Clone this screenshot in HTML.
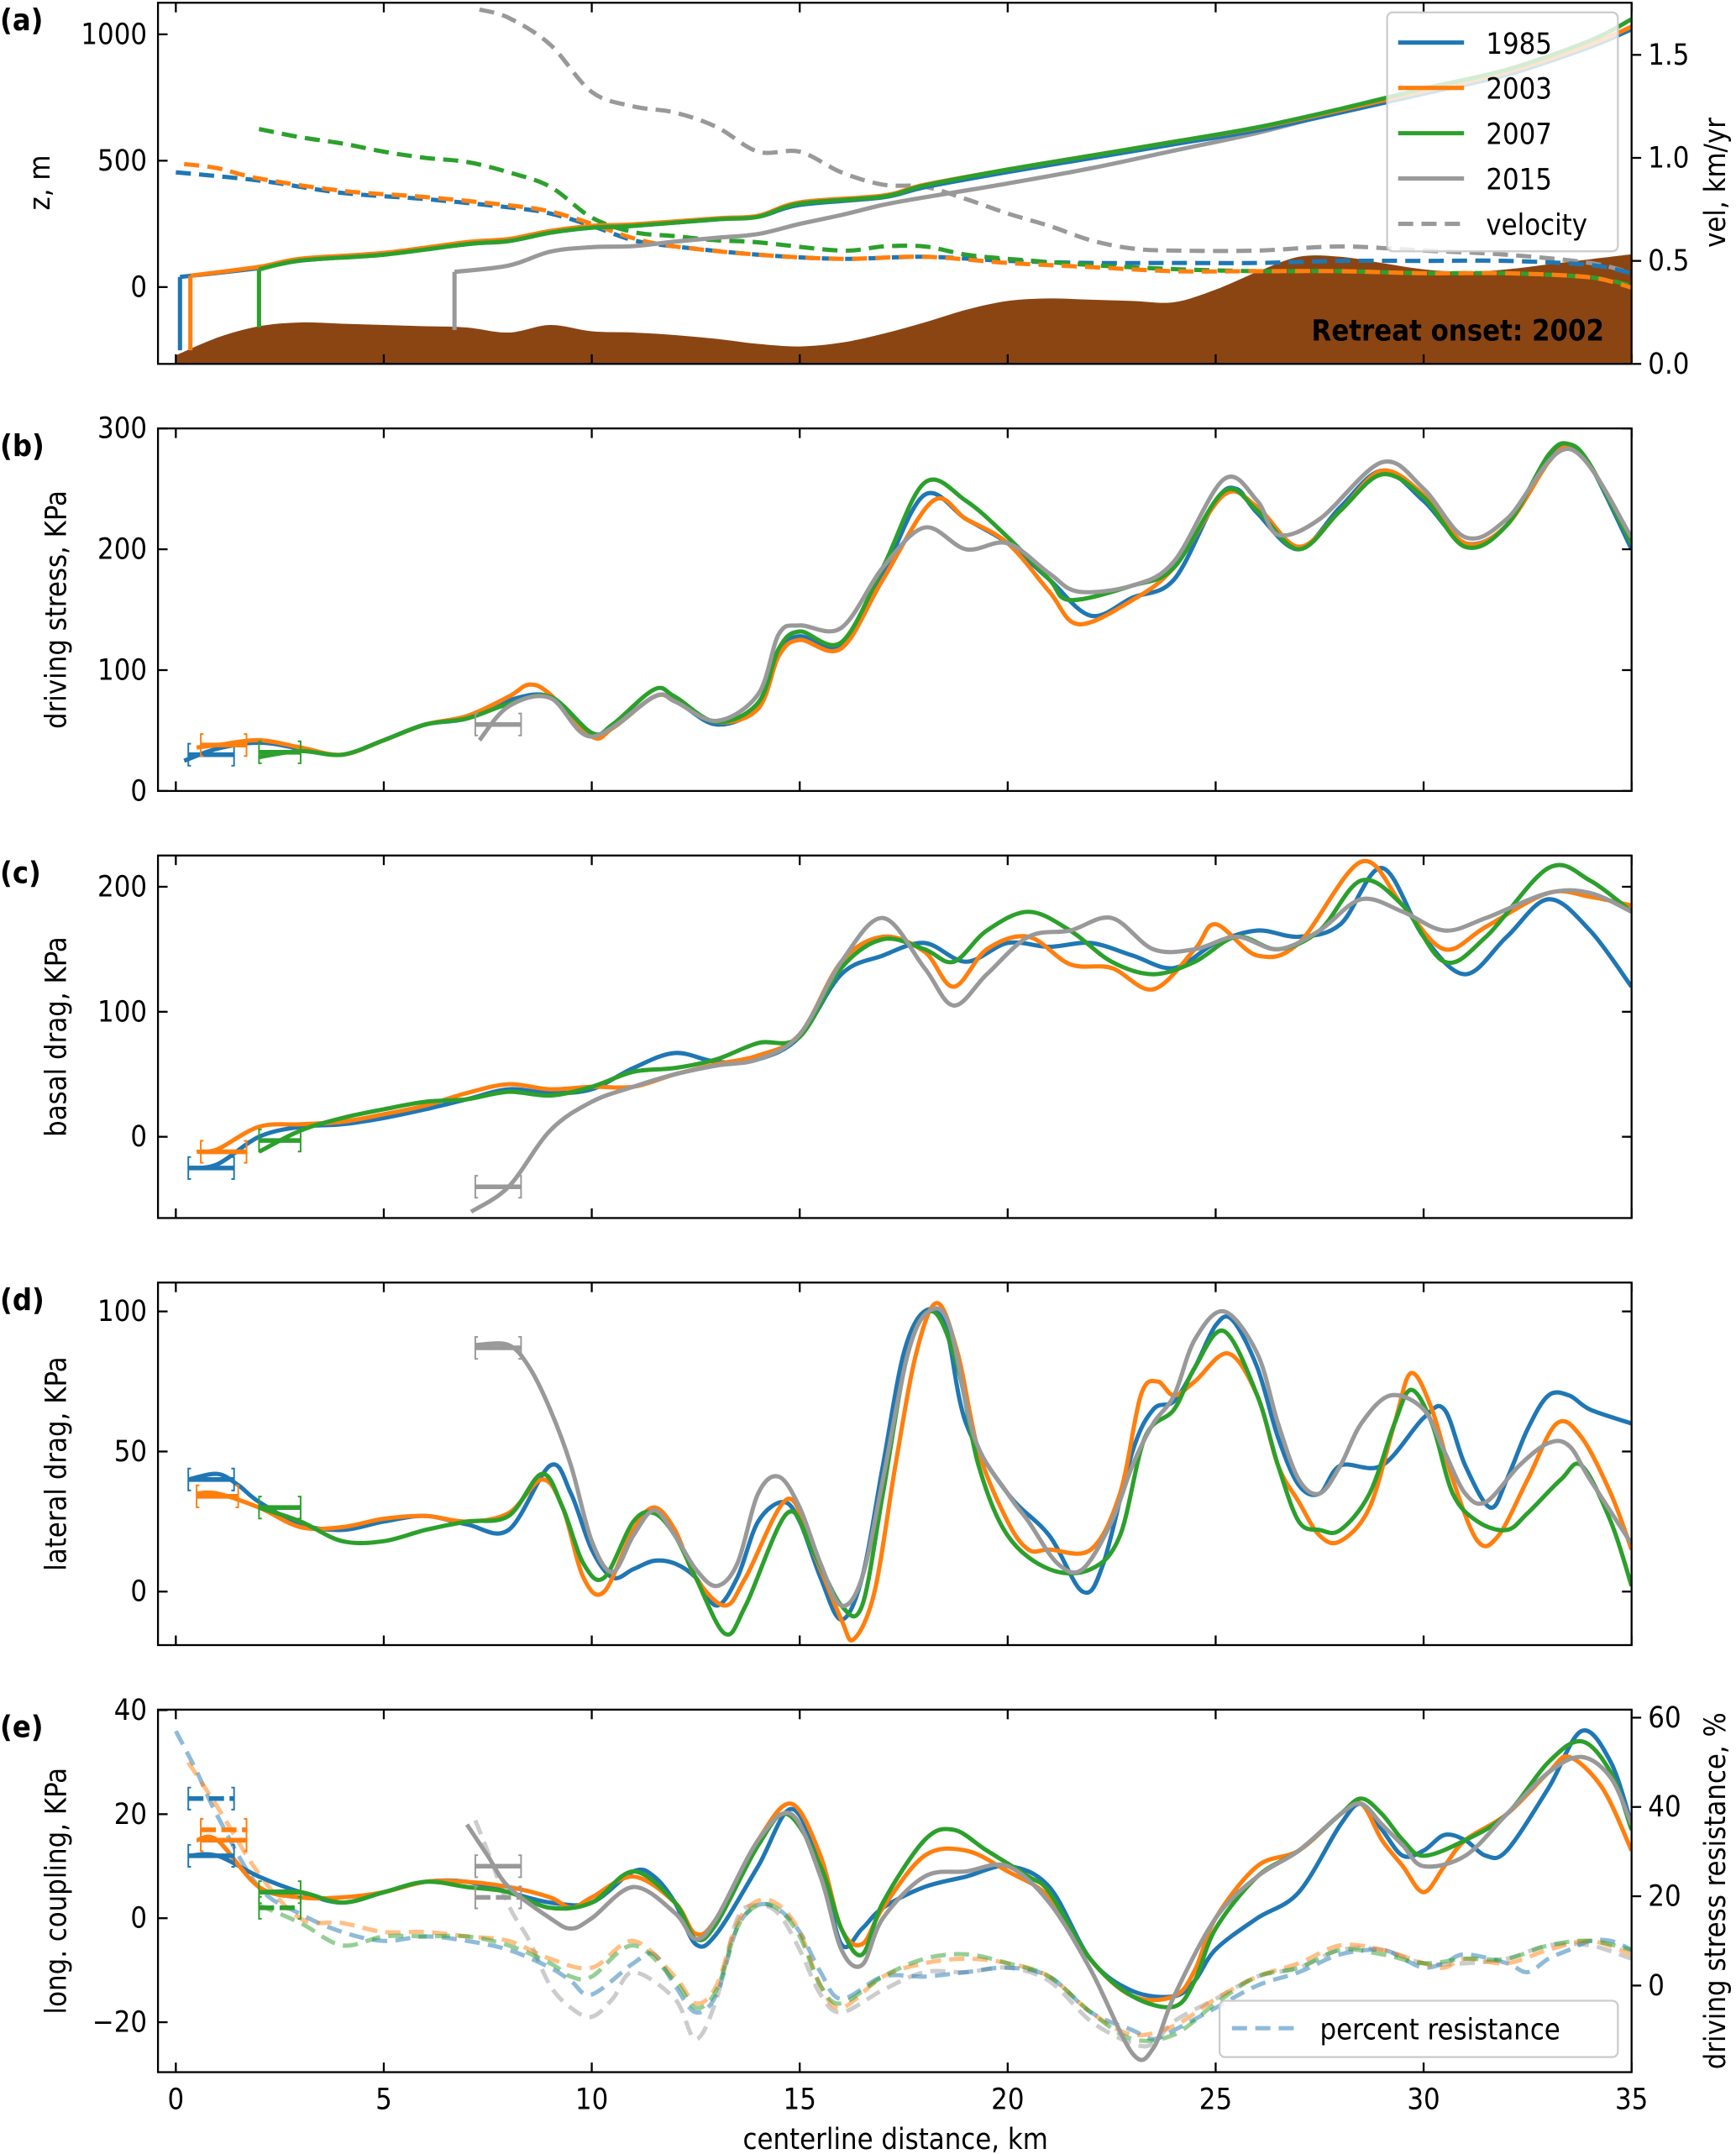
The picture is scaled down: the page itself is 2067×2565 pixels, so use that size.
<!DOCTYPE html>
<html><head><meta charset="utf-8"><title>Glacier centerline profiles</title>
<style>
html,body{margin:0;padding:0;background:#fff;}
svg{display:block;}
text{font-family:"DejaVu Sans Condensed","DejaVu Sans","Liberation Sans",sans-serif;fill:#000;}
</style></head>
<body>
<svg id="fig" xmlns="http://www.w3.org/2000/svg" width="2067" height="2565" viewBox="0 0 1264 1568.6"></svg>
<script>
// ---------- DATA ----------
const xTicks=[0,5,10,15,20,25,30,35];
const years=['1985','2003','2007','2015'];
// (a) surface elevation, m
const sX85=[0.1,2,3,5,7,8,9,10,11,13,14,15,17,18,20,22,24,26,28,30,32,34,35];
const sY85=[40,75,105,130,170,182,215,235,242,268,278,325,355,395,455,510,565,620,690,765,840,950,1020];
const sX03=[0.35,2,3,5,7,8,9,10,11,13,14,15,17,18,20,22,24,26,28,30,32,34,35];
const sY03=[45,80,112,135,178,190,222,242,248,272,282,335,362,405,465,520,575,630,700,775,850,960,1030];
const sX07=[2,3,5,7,8,9,10,11,13,14,15,17,18,20,22,24,26,28,30,32,34,35];
const sY07=[70,105,128,170,182,215,235,242,268,278,330,358,402,465,520,575,632,705,785,860,975,1060];
const sX15=[6.7,8,9,10,11,12,13,14,15,16,17,18,20,22,24,26,28,30,32,34,35];
const sY15=[60,85,140,158,162,180,195,210,250,285,325,355,410,470,540,610,695,775,860,960,1030];
const termBed=[-250,-250,-160,-170];
// bed
const bedX=[0,1,2,3,4,5,6,7,8,9,10,11,12,13,14,15,16,17,18,19,20,21,22,23,24,25,26,27,28,29,30,31,32,33,34,35];
const bedY=[-270,-200,-155,-140,-145,-150,-155,-160,-180,-150,-175,-180,-190,-205,-225,-235,-220,-185,-140,-90,-55,-45,-50,-55,-60,-10,60,120,120,95,70,60,70,90,110,130];
// (a) velocity, km/yr
const vX85=[0,2,4,6,8,9,10,11,12,14,16,18,20,22,24,26,28,30,32,34,35];
const vY85=[0.93,0.89,0.83,0.8,0.76,0.73,0.67,0.6,0.57,0.53,0.51,0.52,0.5,0.49,0.49,0.49,0.5,0.5,0.5,0.48,0.44];
const vX03=[0.2,1,2,4,6,8,9,10,11,12,14,16,18,20,22,24,26,28,30,32,34,35];
const vY03=[0.97,0.95,0.9,0.84,0.81,0.77,0.74,0.68,0.61,0.57,0.53,0.51,0.52,0.49,0.47,0.45,0.45,0.45,0.44,0.44,0.42,0.37];
const vX07=[2,3,4,5,6,7,8,9,10,11,12,13,14,16,17,18,19,20,22,24,26,28,30,32,34,35];
const vY07=[1.14,1.1,1.07,1.03,1.0,0.98,0.93,0.86,0.71,0.64,0.62,0.6,0.59,0.55,0.57,0.57,0.53,0.51,0.48,0.46,0.45,0.45,0.44,0.44,0.42,0.38];
const vX15=[7.3,8,9,10,11,12,13,14,15,16,17,18,19,20,21,22,23,24,26,28,30,32,34,35];
const vY15=[1.72,1.68,1.55,1.32,1.25,1.22,1.15,1.03,1.03,0.93,0.87,0.86,0.8,0.73,0.67,0.6,0.56,0.55,0.55,0.57,0.55,0.53,0.49,0.44];
// (b) driving stress
const dX85=[0.2,1,2,3,4,5,6,7,8,9,10,10.5,11.5,12,13,14,14.5,15,16,17,18,19,20,21,22,23,24,25,25.5,26,27,28,29,30,31,32,33,33.5,34,35];
const dY85=[25,35,40,35,30,42,55,60,75,78,48,52,78,75,55,70,115,128,120,180,245,225,205,175,145,160,175,240,250,230,200,235,265,240,205,220,275,285,270,200];
const dX03=[0.5,1,2,3,4,5,6,7,8,8.5,9,10,10.5,11.5,12,13,14,14.5,15,16,17,18.2,19,20,21,21.7,23,24,25.2,26,27,28,29,30,31,32,33,33.5,34,35];
const dY03=[36,38,42,36,30,42,55,62,78,88,80,45,52,78,75,57,68,112,125,118,175,240,225,205,165,138,158,185,245,235,202,232,265,245,205,220,272,285,270,205];
const dX07=[2,3,4,5,6,7,8,9,10,10.5,11.5,12,13,14,14.5,15,16,17,18,19,20,21,21.5,23,24,25.2,26,27,28,29,30,31,32,33,33.5,34,35];
const dY07=[28,33,30,42,55,60,72,78,48,55,84,78,57,73,118,132,123,185,255,240,210,175,158,170,185,248,232,200,232,262,243,202,220,278,287,270,205];
const dX15=[7.3,8,9,10,11.5,12,13,14,14.5,15,16,17,18,19,20,21,21.7,23,24,25.2,26,26.5,27.5,29,30,31,32,33.5,35];
const dY15=[42,70,77,45,78,74,58,80,130,137,135,185,218,200,205,180,165,170,190,258,240,212,225,272,250,210,225,283,210];
// (c) basal drag
const cX85=[0.3,1,2,3,4,5,6,7,8,9,10,11,12,13,14,15,16,17,18,19,20,21,22,23,24,25,26,27,28,29,30,31,32,33,34,35];
const cY85=[-25,-22,0,8,10,15,22,30,38,35,38,55,67,60,62,80,130,145,155,140,155,152,155,145,135,155,165,160,170,215,160,130,160,190,165,120];
const cX03=[0.5,1,2,3,4,5,6,7,8,9,10,11,12,13,14,15,16,17,18,18.7,19.5,20.5,21.5,22.5,23.5,24.5,25,26,27,28.5,29.5,30.5,31.5,33,34,35];
const cY03=[-12,-10,8,10,12,18,25,35,42,38,40,40,50,58,65,82,140,160,148,120,150,160,138,135,118,150,170,145,155,220,185,150,168,195,192,185];
const cX07=[2,3,4,5,6,7,8,9,10,11,12,13,14,15,16,17,18,18.7,19.5,20.5,21.5,22.5,23.5,24.5,25.5,26.5,27.5,28.5,29.5,30.5,31.5,33,34,35];
const cY07=[-12,5,15,22,28,30,36,33,40,52,55,62,75,80,135,158,150,140,165,180,165,140,130,140,160,150,165,205,185,140,160,215,205,180];
const cX15=[7.1,8,9,10,11,12,13,14,15,16,17,18,18.7,19.5,20.5,21.5,22.5,23.5,24.5,25.5,26.5,27.5,28.5,29.5,30.5,31.5,33,34,35];
const cY15=[-60,-40,5,28,40,50,57,62,82,140,175,135,105,130,160,165,175,150,150,160,150,165,190,180,165,175,195,195,180];
// (d) lateral drag
const lX85=[0.3,1,1.5,2,3,4,5,6,7,8,9,9.5,10,10.5,11,11.5,12,12.5,13,13.5,14,14.6,15,15.5,16,16.5,17,17.5,18,18.5,19,20,21,21.8,22.3,23,23.5,24,24.5,25,25.4,26,26.5,27,27.5,28,29,30,30.5,31,31.6,32,32.5,33,33.5,34,35];
const lY85=[40,42,38,32,24,22,25,27,24,22,45,35,15,5,8,11,10,5,-5,5,25,32,25,5,-10,5,45,85,100,95,60,35,20,0,10,50,65,68,80,95,97,80,55,38,35,45,45,62,65,45,30,40,58,70,70,65,60];
const lX03=[0.5,1,2,3,4,5,6,7,8,8.8,9.3,9.8,10.3,11,11.5,12,12.5,13.2,13.7,14.7,15.3,16,16.3,16.8,17.3,17.8,18.3,18.8,19.3,20,20.5,21,22,22.7,23.2,23.6,24,24.5,25.3,26,26.5,27,27.5,28,28.7,29.3,29.7,30.2,30.7,31.3,31.8,32.5,33.2,33.8,34.5,35];
const lY03=[35,35,30,23,23,26,27,25,28,40,30,5,0,22,30,22,5,-5,5,33,15,-10,-17,0,45,85,103,85,50,25,15,15,15,35,70,75,70,75,85,70,45,32,20,18,30,60,78,65,40,18,20,40,60,55,35,15];
const lX07=[2,3,4,5,6,7,8,8.8,9.3,9.8,10.3,11,11.5,12,12.5,13.2,13.7,14.7,15.3,16,16.5,17,17.6,18.2,18.8,19.3,20,21,22,22.7,23.3,24,24.5,25.2,26,26.5,27,27.5,28,28.7,29.3,29.7,30.2,30.7,31.3,32,32.5,33.3,33.8,34.5,35];
const lY07=[30,25,18,18,22,25,27,42,30,10,5,25,28,20,5,-15,-5,28,15,-5,-5,35,85,100,80,45,20,8,8,20,55,65,80,93,70,45,25,22,22,35,60,72,60,35,25,22,28,40,45,25,2];
const lX15=[7.2,8,8.5,9,9.5,10,10.5,11,11.5,12,12.5,13,13.5,14,14.5,15,15.5,16,16.5,17,17.6,18.1,18.6,19.2,20,20.5,21.2,21.8,22.5,23,23.5,24,24.5,25.2,26,26.5,27,27.5,28,28.5,29.2,30,30.5,31,31.5,32.3,33,33.5,34,35];
const lY15=[88,88,80,65,45,18,7,20,29,20,8,2,10,35,41,30,10,-5,5,40,85,100,95,55,35,25,10,8,25,45,60,70,90,100,85,60,40,35,45,60,70,65,50,35,32,45,53,52,40,17];
// (e) longitudinal coupling
const eX85=[0.3,1,2,3,4,5,6,7,8,9,10,11,11.5,12,12.5,13,14,14.8,15.5,16,16.5,17,18,19,20,21,22,23,24,24.5,25,26,27,28,28.5,29,29.5,30,30.5,31,31.5,32,33,33.8,34.5,35];
const eY85=[12,12,8,5,3,5,7,7,5,3,3,9,8,3,-5,-3,10,21,10,-5,-2,2,6,8,10,6,-8,-14,-15,-12,-6,0,5,18,22,17,12,13,16,15,12,13,25,36,30,18];
const eX03=[0.5,1,2,3,4,5,6,7,8,9,9.5,10,11,12,12.5,13,14,14.8,15.5,16,16.5,17,18,19,20,21,22,23,24,24.5,25,26,27,28,28.5,29,29.5,30,30.5,31,32,33,33.5,34.3,35];
const eY03=[15,15,6,4,4,5,7,7,6,4,2,4,8,3,-3,0,15,22,12,-2,-5,2,12,13,9,4,-8,-15,-15,-10,0,10,13,20,22,15,10,5,10,15,20,28,31,25,13];
const eX07=[2,3,4,5,6,7,8,9,10,11,12,12.5,13,14,14.7,15.5,16,16.5,17,18,18.7,19.5,20.5,21,22,23,24,24.5,25,26,27,28,28.5,29,29.5,30,31,32,33,33.8,34.5,35];
const eY07=[5,5,3,5,7,6,5,2,3,9,3,-4,-1,14,20,10,-2,-7,3,15,17,13,8,5,-8,-15,-17,-12,-2,8,13,20,23,20,15,12,15,20,30,34,28,17];
const eX15=[7,7.5,8,9,9.5,10,11,12,12.5,13,14,14.8,15.5,16,16.5,17,18,19,20,21,22,23,23.5,24,25,26,27,28,28.5,29,29.5,30,31,32,33,33.8,34.5,35];
const eY15=[18,12,6,0,-2,0,6,1,-4,0,15,20,8,-6,-9,0,8,9,10,3,-10,-26,-25,-15,0,8,13,20,22,18,14,10,12,20,28,31,27,18];
// (e) percent resistance, %
const pX85=[0,0.5,1,2,3,4,5,6,7,8,9,9.5,10,11,11.5,12,12.5,13,13.5,14,14.5,15,15.5,16,17,18,19,20,21,22,23,23.5,24,25,26,27,28,29,29.5,30,30.5,31,32,32.5,33,33.5,34,34.5,35];
const pY85=[57,48,38,22,16,12,10,11,10,8,4,1,-2,5,7,0,-6,-2,13,18,17,12,3,-3,2,2,3,4,2,-6,-10,-12,-10,-5,0,3,7,8,6,4,5,7,5,3,6,8,10,10,8];
const pX03=[0.3,1,2,3,4,5,6,7,8,9,10,11,12,12.5,13,13.5,14,14.5,15,15.5,16,17,18,19,20,21,22,23,24,25,26,27,28,29,30,30.5,31,32,33,34,35];
const pY03=[50,40,25,15,14,12,12,11,10,6,4,10,2,-4,0,14,19,18,12,0,-5,2,5,6,5,2,-6,-11,-9,-3,2,5,9,8,5,4,6,5,8,10,7];
const pX07=[2,3,4,5,6,7,8,9,9.5,10,11,12,12.5,13,13.5,14,14.5,15,15.5,16,17,18,19,20,21,22,23,24,25,26,27,28,29,30,31,32,33,34,35];
const pY07=[18,14,9,11,11,11,9,5,2,2,9,1,-5,-1,13,18,17,11,0,-4,2,6,7,5,2,-6,-12,-11,-4,2,4,8,7,5,6,6,9,10,8];
const pX15=[7.2,7.5,8,8.5,9,9.5,10,10.5,11,12,12.5,13,13.5,14,14.5,15,15.5,16,17,18,19,20,21,22,23,23.5,24,25,26,27,28,29,30,31,32,33,34,35];
const pY15=[37,30,18,10,0,-5,-7,-3,3,-3,-12,-3,15,18,16,8,-2,-6,-1,3,3,4,1,-8,-13,-13,-8,-3,2,4,8,8,5,5,6,9,9,6];
// error bars: [x0, x1, value]
const errB=[[0.3,1.4,30],[0.6,1.7,38],[2,3,32],[7.2,8.3,55]];
const errC=[[0.3,1.4,-25],[0.6,1.7,-12],[2,3,-3],[7.2,8.3,-40]];
const errD=[[0.3,1.4,40],[0.5,1.5,34],[2,3,30],[7.2,8.3,87]];
const errE=[[0.3,1.4,12],[0.6,1.7,15],[2,3,5],[7.2,8.3,10]];
const errEp=[[0.3,1.4,23],[0.6,1.7,17],[2,3,2],[7.2,8.3,4]];

// ---------- RENDER ----------
const NS='http://www.w3.org/2000/svg';
const svg=document.getElementById('fig');
const COL=['#1f77b4','#ff7f0e','#2ca02c','#999999'];
const L=115,R=1188,X0=128,X35=1188;
const LW=3.1, DASH='11,6';
function sx(v){return X0+(v-0)*(X35-X0)/35;}
function mk(tag,attrs,parent){const e=document.createElementNS(NS,tag);for(const k in attrs)e.setAttribute(k,attrs[k]);(parent||svg).appendChild(e);return e;}
function smooth(pts){
  if(pts.length<2)return '';
  let d='M'+pts[0][0].toFixed(2)+','+pts[0][1].toFixed(2);
  for(let i=0;i<pts.length-1;i++){
    const p0=pts[Math.max(i-1,0)],p1=pts[i],p2=pts[i+1],p3=pts[Math.min(i+2,pts.length-1)];
    const c1x=p1[0]+(p2[0]-p0[0])/6,c1y=p1[1]+(p2[1]-p0[1])/6;
    const c2x=p2[0]-(p3[0]-p1[0])/6,c2y=p2[1]-(p3[1]-p1[1])/6;
    d+=' C'+c1x.toFixed(2)+','+c1y.toFixed(2)+' '+c2x.toFixed(2)+','+c2y.toFixed(2)+' '+p2[0].toFixed(2)+','+p2[1].toFixed(2);
  }
  return d;
}
function axis(id,top,bot,ymin,ymax){
  const sy=v=>top+(ymax-v)/(ymax-ymin)*(bot-top);
  const g=mk('g',{});
  
  
  const cp=mk('clipPath',{id:'clip-'+id},svg);
  mk('rect',{x:L,y:top,width:R-L,height:bot-top},cp);
  const plot=mk('g',{'clip-path':'url(#clip-'+id+')'},g);
  
  
  return {g,plot,sy,top,bot};
}
function frame(ax,id,yticks,ylabels,rightTicks){
  const g=ax.g;
  const fr=mk('rect',{x:L,y:ax.top,width:R-L,height:ax.bot-ax.top,fill:'none',stroke:'#000','stroke-width':1.4},g);
  
  
  xTicks.forEach(t=>{
    mk('line',{x1:sx(t),x2:sx(t),y1:ax.bot,y2:ax.bot-7,stroke:'#000','stroke-width':1.4},g);
    mk('line',{x1:sx(t),x2:sx(t),y1:ax.top,y2:ax.top+7,stroke:'#000','stroke-width':1.4},g);
  });
  yticks.forEach((t,i)=>{
    const y=ax.sy(t);
    mk('line',{x1:L,x2:L+7,y1:y,y2:y,stroke:'#000','stroke-width':1.4},g);
    if(rightTicks)mk('line',{x1:R,x2:R-7,y1:y,y2:y,stroke:'#000','stroke-width':1.4},g);
    const tx=mk('text',{x:L-8,y:y+7,'font-size':21,'text-anchor':'end'},g);
    tx.textContent=ylabels[i];
    
    
  });
}
function ylabel(id,x,y,txt){
  const t=mk('text',{x:x,y:y,'font-size':21,'text-anchor':'middle',transform:'rotate(-90 '+x+' '+y+')'});
  t.textContent=txt;
  
  
}
function plabel(id,y){
  const t=mk('text',{x:0,y:y,'font-size':22,'font-weight':'bold'});
  t.textContent='('+id+')';
  
  
}
function line(ax,xs,ys,color,opts,name,syf){
  opts=opts||{};
  const f=syf||ax.sy;
  const pts=xs.map((x,i)=>[sx(x),f(ys[i])]);
  const p=mk('path',{d:smooth(pts),fill:'none',stroke:color,'stroke-width':opts.w||LW,'stroke-linejoin':'round','stroke-linecap':'butt'},ax.plot);
  if(opts.dash)p.setAttribute('stroke-dasharray',opts.dash);
  if(opts.op)p.setAttribute('stroke-opacity',opts.op);
  
  
  return p;
}
function errbar(ax,e,color,name,dash,syf){
  const f=syf||ax.sy;
  const y=f(e[2]),a=sx(e[0]),b=sx(e[1]);
  const g=mk('g',{stroke:color,fill:'none'},ax.plot);
  
  
  const h=mk('line',{x1:a,x2:b,y1:y,y2:y,'stroke-width':3.4},g);
  if(dash)h.setAttribute('stroke-dasharray',dash);
  mk('path',{d:'M'+(a+2)+','+(y-8)+' H'+a+' V'+(y+8)+' H'+(a+2),'stroke-width':1.2},g);
  mk('path',{d:'M'+(b-2)+','+(y-8)+' H'+b+' V'+(y+8)+' H'+(b-2),'stroke-width':1.2},g);
}

// ===== Panel (a) =====
const A=axis('a',2,265,-304,1125);
const vmax=1.753;
const syV=v=>A.top+(vmax-v)/vmax*(A.bot-A.top);
{
  const pts=bedX.map((x,i)=>[sx(x),A.sy(bedY[i])]);
  const d=smooth(pts)+' L'+sx(35)+','+A.bot+' L'+sx(0)+','+A.bot+' Z';
  const bed=mk('path',{d:d,fill:'#8b4513',stroke:'none'},A.plot);
  
  
}
const sXs=[sX85,sX03,sX07,sX15],sYs=[sY85,sY03,sY07,sY15];
const vXs=[vX85,vX03,vX07,vX15],vYs=[vY85,vY03,vY07,vY15];
[3,0,2,1].forEach(k=>{
  const c=k===3?'#999999':COL[k];
  line(A,vXs[k],vYs[k],c,{dash:DASH},'velocity-'+years[k],syV);
});
[3,0,1,2].forEach(k=>{
  line(A,sXs[k],sYs[k],COL[k],{},'surface-'+years[k]);
  const tl=mk('line',{x1:sx(sXs[k][0]),x2:sx(sXs[k][0]),y1:A.sy(termBed[k]),y2:A.sy(sYs[k][0]),stroke:COL[k],'stroke-width':LW},A.plot);
  
  
});
{
  const t=mk('text',{x:1168,y:248,'font-size':21,'font-weight':'bold','text-anchor':'end','font-family':'DejaVu Sans, sans-serif'},A.plot);
  t.textContent='Retreat onset: 2002';
  
  
}
frame(A,'a',[0,500,1000],['0','500','1000'],false);
[0,0.5,1,1.5].forEach((t,i)=>{
  const y=syV(t);
  mk('line',{x1:R,x2:R+7,y1:y,y2:y,stroke:'#000','stroke-width':1.4},A.g);
  const tx=mk('text',{x:R+12,y:y+7,'font-size':21},A.g);
  tx.textContent=['0.0','0.5','1.0','1.5'][i];
  
  
});
{
  const lg=mk('g',{});
  
  
  mk('rect',{x:1010,y:9,width:168,height:174,rx:4,fill:'#fff','fill-opacity':0.8,stroke:'#ccc','stroke-width':1.4},lg);
  const labs=['1985','2003','2007','2015','velocity'];
  labs.forEach((s,i)=>{
    const y=31+i*33;
    const e=mk('g',{},lg);
    
    
    const ln=mk('line',{x1:1018,x2:1066,y1:y,y2:y,stroke:i<4?COL[i]:'#999999','stroke-width':LW},e);
    if(i===4)ln.setAttribute('stroke-dasharray',DASH);
    const t=mk('text',{x:1082,y:y+8,'font-size':21},e);
    t.textContent=s;
  });
}
plabel('a',22);
ylabel('a',36,133,'z, m');
ylabel('a-right',1256,133,'vel, km/yr');

// ===== Panel (b) =====
const B=axis('b',312,576,0,300);
const bXs=[dX85,dX03,dX07,dX15],bYs=[dY85,dY03,dY07,dY15];
[0,1,2,3].forEach(k=>line(B,bXs[k],bYs[k],COL[k],{},'driving-stress-'+years[k]));
errB.forEach((e,k)=>errbar(B,e,COL[k],'error-bar-b-'+years[k]));
frame(B,'b',[0,100,200,300],['0','100','200','300'],true);
plabel('b',332); ylabel('b',48,444,'driving stress, KPa');

// ===== Panel (c) =====
const C=axis('c',623,887,-65,225);
const cXs=[cX85,cX03,cX07,cX15],cYs=[cY85,cY03,cY07,cY15];
[0,1,2,3].forEach(k=>line(C,cXs[k],cYs[k],COL[k],{},'basal-drag-'+years[k]));
errC.forEach((e,k)=>errbar(C,e,COL[k],'error-bar-c-'+years[k]));
frame(C,'c',[0,100,200],['0','100','200'],true);
plabel('c',643); ylabel('c',48,755,'basal drag, KPa');

// ===== Panel (d) =====
const D=axis('d',934,1198,-19.1,110.3);
const dXs=[lX85,lX03,lX07,lX15],dYs=[lY85,lY03,lY07,lY15];
[0,1,2,3].forEach(k=>line(D,dXs[k],dYs[k],COL[k],{},'lateral-drag-'+years[k]));
errD.forEach((e,k)=>errbar(D,e,COL[k],'error-bar-d-'+years[k]));
frame(D,'d',[0,50,100],['0','50','100'],true);
plabel('d',954); ylabel('d',48,1066,'lateral drag, KPa');

// ===== Panel (e) =====
const E=axis('e',1245,1509,-29.6,40.1);
const pmin=-19.4,pmax=61.8;
const syP=v=>E.top+(pmax-v)/(pmax-pmin)*(E.bot-E.top);
const pXs=[pX85,pX03,pX07,pX15],pYs=[pY85,pY03,pY07,pY15];
[3,0,1,2].forEach(k=>line(E,pXs[k],pYs[k],COL[k],{dash:DASH,op:0.5},'percent-resistance-'+years[k],syP));
const eXs=[eX85,eX03,eX07,eX15],eYs=[eY85,eY03,eY07,eY15];
[0,1,2,3].forEach(k=>line(E,eXs[k],eYs[k],COL[k],{},'long-coupling-'+years[k]));
errE.forEach((e,k)=>errbar(E,e,COL[k],'error-bar-e-'+years[k]));
errEp.forEach((e,k)=>errbar(E,e,COL[k],'error-bar-e-pct-'+years[k],'11,4'));
frame(E,'e',[-20,0,20,40],['\u221220','0','20','40'],false);
[0,20,40,60].forEach(t=>{
  const y=syP(t);
  mk('line',{x1:R,x2:R+7,y1:y,y2:y,stroke:'#000','stroke-width':1.4},E.g);
  const tx=mk('text',{x:R+12,y:y+7,'font-size':21},E.g);
  tx.textContent=String(t);
  
  
});
xTicks.forEach(t=>{
  const tx=mk('text',{x:sx(t),y:1536,'font-size':21,'text-anchor':'middle'});
  tx.textContent=String(t);
  
  
});
{
  const t=mk('text',{x:652,y:1565,'font-size':21,'text-anchor':'middle'});
  t.textContent='centerline distance, km';
  
  
}
{
  const lg=mk('g',{});
  
  
  mk('rect',{x:888,y:1457,width:290,height:41,rx:4,fill:'#fff','fill-opacity':0.8,stroke:'#ccc','stroke-width':1.4},lg);
  mk('line',{x1:897,x2:945,y1:1477,y2:1477,stroke:'#1f77b4','stroke-opacity':0.5,'stroke-width':LW,'stroke-dasharray':DASH},lg);
  const t=mk('text',{x:961,y:1485,'font-size':21},lg);
  t.textContent='percent resistance';
  
  
}
plabel('e',1265); ylabel('e',48,1377,'long. coupling, KPa');
ylabel('e-right',1256,1377,'driving stress resistance, %');
</script>
</body></html>
